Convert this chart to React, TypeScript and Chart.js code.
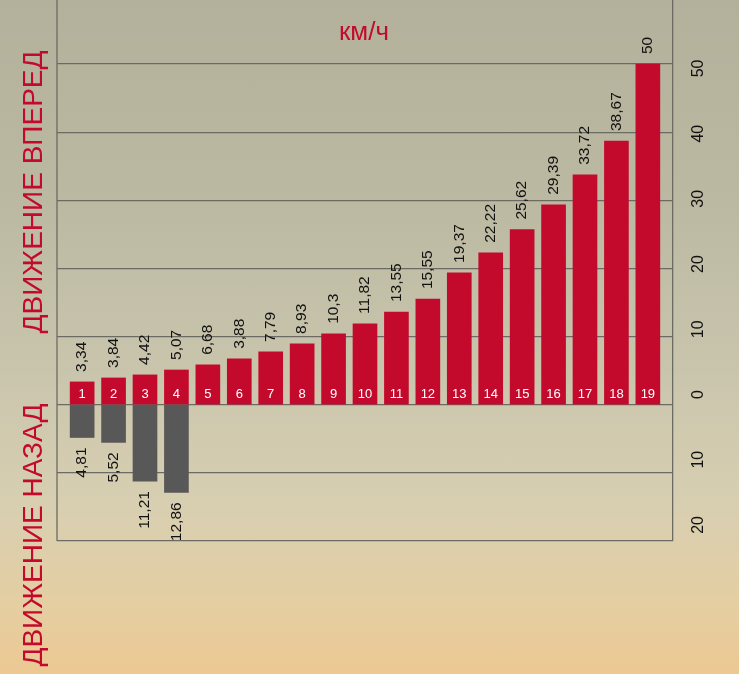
import React, { useEffect, useRef } from "react";
import { Chart, registerables } from "chart.js";

Chart.register(...registerables);

// Gear numbers (categories)
const gears = ["1", "2", "3", "4", "5", "6", "7", "8", "9", "10", "11", "12", "13", "14", "15", "16", "17", "18", "19"];
// Forward speeds, km/h (bar heights as drawn)
const forwardSpeeds = [3.35, 3.93, 4.38, 5.1, 5.85, 6.73, 7.75, 8.93, 10.4, 11.86, 13.6, 15.5, 19.35, 22.3, 25.7, 29.35, 33.75, 38.7, 50];
// Forward speed labels as printed
const forwardLabels = ["3,34", "3,84", "4,42", "5,07", "6,68", "3,88", "7,79", "8,93", "10,3", "11,82", "13,55", "15,55", "19,37", "22,22", "25,62", "29,39", "33,72", "38,67", "50"];
// Reverse speeds, km/h
const reverseSpeeds = [4.81, 5.52, 11.21, 12.86];
const reverseLabels = ["4,81", "5,52", "11,21", "12,86"];
// Grid axis
const yTickStep = 10;
const yMin = -20;
const yMax = 59.4;
// Tick-label axis (labels in the original sit on a slightly compressed scale)
const labelMin = -22.47;
const labelMax = 60.5;
const labelTop = 50;

const unitTitle = "км/ч";
const forwardTitle = "ДВИЖЕНИЕ ВПЕРЕД";
const reverseTitle = "ДВИЖЕНИЕ НАЗАД";

const RED = "#c30a2c";
const GREY = "#585858";
const GRID = "#6b6b63";
const FONT = "'Liberation Sans', Arial, sans-serif";

export default function App() {
  const ref = useRef<HTMLCanvasElement | null>(null);

  useEffect(() => {
    if (!ref.current) return;

    const overlay = {
      id: "overlay",
      afterDatasetsDraw(chart: any) {
        const ctx = chart.ctx;
        const area = chart.chartArea;
        ctx.save();
        // left frame line
        ctx.strokeStyle = GRID;
        ctx.lineWidth = 1.3;
        ctx.beginPath();
        ctx.moveTo(area.left, area.top);
        ctx.lineTo(area.left, area.bottom);
        ctx.stroke();

        const yScale = chart.scales.y;
        const zeroY = yScale.getPixelForValue(0);

        // forward labels
        const fMeta = chart.getDatasetMeta(0);
        ctx.font = `15.5px ${FONT}`;
        ctx.fillStyle = "#111";
        fMeta.data.forEach((bar: any, i: number) => {
          ctx.save();
          ctx.translate(bar.x, bar.y - 10);
          ctx.rotate(-Math.PI / 2);
          ctx.textAlign = "left";
          ctx.textBaseline = "middle";
          ctx.fillText(forwardLabels[i], 0, 0);
          ctx.restore();
        });
        // reverse labels
        const rMeta = chart.getDatasetMeta(1);
        rMeta.data.forEach((bar: any, i: number) => {
          ctx.save();
          ctx.translate(bar.x, bar.y + 10);
          ctx.rotate(-Math.PI / 2);
          ctx.textAlign = "right";
          ctx.textBaseline = "middle";
          ctx.fillText(reverseLabels[i], 0, 0);
          ctx.restore();
        });
        // gear numbers inside bars
        ctx.font = `13px ${FONT}`;
        ctx.fillStyle = "#ffffff";
        ctx.textAlign = "center";
        ctx.textBaseline = "middle";
        fMeta.data.forEach((bar: any, i: number) => {
          ctx.fillText(gears[i], bar.x, zeroY - 10);
        });

        // unit title
        ctx.font = `26px ${FONT}`;
        ctx.fillStyle = RED;
        ctx.textAlign = "center";
        ctx.textBaseline = "middle";
        ctx.fillText(unitTitle, 364, 33);

        // left titles
        ctx.font = `28px ${FONT}`;
        ctx.save();
        ctx.translate(34, 192);
        ctx.rotate(-Math.PI / 2);
        ctx.fillText(forwardTitle, 0, 0);
        ctx.restore();
        ctx.save();
        ctx.translate(34, 535);
        ctx.rotate(-Math.PI / 2);
        ctx.fillText(reverseTitle, 0, 0);
        ctx.restore();
        ctx.restore();
      },
    };

    const chart = new Chart(ref.current, {
      type: "bar",
      data: {
        datasets: [
          {
            label: "forward",
            data: forwardSpeeds.map((v, i) => ({ x: i + 1, y: v })),
            backgroundColor: RED,
            barThickness: 24,
            grouped: false,
            yAxisID: "y",
          } as any,
          {
            label: "reverse",
            data: reverseSpeeds.map((v, i) => ({ x: i + 1, y: -v })),
            backgroundColor: GREY,
            barThickness: 24,
            grouped: false,
            yAxisID: "y",
          } as any,
        ],
      },
      options: {
        animation: false,
        responsive: false,
        layout: { padding: { left: 57, right: 0, top: 0, bottom: 133 } },
        plugins: {
          legend: { display: false },
          tooltip: { enabled: false },
          title: { display: false },
        },
        scales: {
          x: {
            type: "linear",
            display: false,
            offset: false,
            min: 0.2,
            max: 19.8,
            grid: { offset: false },
          } as any,
          y: {
            position: "right",
            min: yMin,
            max: yMax,
            grid: { color: GRID, lineWidth: 1.3, drawTicks: false },
            border: { display: true, color: GRID, width: 1.3 },
            ticks: {
              display: false,
              stepSize: yTickStep,
              includeBounds: false,
            },
            afterFit: (scale: any) => {
              scale.width = 0;
              scale.paddingTop = 0;
              scale.paddingBottom = 0;
            },
          } as any,
          y2: {
            position: "right",
            min: labelMin,
            max: labelMax,
            grid: { display: false, drawTicks: false },
            border: { display: false },
            ticks: {
              stepSize: yTickStep,
              includeBounds: false,
              minRotation: 90,
              maxRotation: 90,
              crossAlign: "center",
              padding: 17,
              color: "#111",
              font: { family: FONT, size: 16 },
              callback: (v: any) => (Number(v) > labelTop ? "" : String(Math.abs(Number(v)))),
            },
            afterFit: (scale: any) => {
              scale.width = 66;
              scale.paddingTop = 0;
              scale.paddingBottom = 0;
            },
          } as any,
        },
      },
      plugins: [overlay],
    });
    return () => chart.destroy();
  }, []);

  return (
    <div
      style={{
        position: "fixed",
        left: 0,
        top: 0,
        width: 739,
        height: 674,
        background:
          "linear-gradient(180deg, #b3b19b 0%, #bcb9a2 30%, #c9c5ad 55%, #d8cfb1 75%, #e5cea2 90%, #ecc892 100%)",
      }}
    >
      <canvas ref={ref} width={739} height={674} style={{ display: "block" }} />
    </div>
  );
}
